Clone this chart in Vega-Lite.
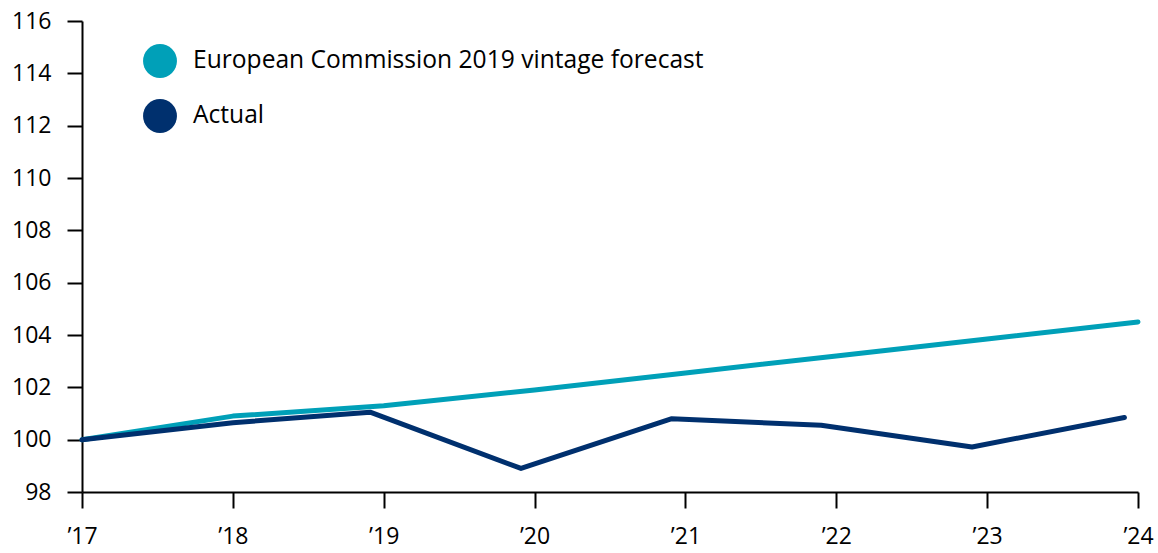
{
  "$schema": "https://vega.github.io/schema/vega-lite/v6.json",
  "width": 1056,
  "height": 471,
  "autosize": "none",
  "padding": {"left": 82, "top": 21, "right": 20, "bottom": 61},
  "background": "white",
  "config": {
    "view": {"stroke": null},
    "font": "Open Sans"
  },
  "data": {
    "values": [
      {"series": "European Commission 2019 vintage forecast", "year": 2017, "value": 100.0},
      {"series": "European Commission 2019 vintage forecast", "year": 2018, "value": 100.9},
      {"series": "European Commission 2019 vintage forecast", "year": 2019, "value": 101.3},
      {"series": "European Commission 2019 vintage forecast", "year": 2020, "value": 101.9},
      {"series": "European Commission 2019 vintage forecast", "year": 2021, "value": 102.55},
      {"series": "European Commission 2019 vintage forecast", "year": 2022, "value": 103.2},
      {"series": "European Commission 2019 vintage forecast", "year": 2023, "value": 103.85},
      {"series": "European Commission 2019 vintage forecast", "year": 2024, "value": 104.5},
      {"series": "Actual", "year": 2017, "value": 100.0},
      {"series": "Actual", "year": 2018.0, "value": 100.65},
      {"series": "Actual", "year": 2018.91, "value": 101.05},
      {"series": "Actual", "year": 2019.91, "value": 98.9},
      {"series": "Actual", "year": 2020.91, "value": 100.8},
      {"series": "Actual", "year": 2021.9, "value": 100.55},
      {"series": "Actual", "year": 2022.9, "value": 99.72},
      {"series": "Actual", "year": 2023.91, "value": 100.85}
    ]
  },
  "mark": {"type": "line", "strokeWidth": 5, "strokeCap": "round", "strokeJoin": "round"},
  "encoding": {
    "x": {
      "field": "year",
      "type": "quantitative",
      "scale": {"domain": [2017, 2024], "nice": false, "zero": false},
      "axis": {
        "title": null,
        "values": [2017, 2018, 2019, 2020, 2021, 2022, 2023, 2024],
        "labelExpr": "'’' + substring(format(datum.value, 'd'), 2)",
        "grid": false,
        "domainColor": "black",
        "domainWidth": 2,
        "tickColor": "black",
        "tickWidth": 2,
        "tickSize": 16,
        "labelFontSize": 23,
        "labelColor": "black",
        "labelPadding": 17,
        "labelFlush": false
      }
    },
    "y": {
      "field": "value",
      "type": "quantitative",
      "scale": {"domain": [98, 116], "nice": false, "zero": false},
      "axis": {
        "title": null,
        "values": [98, 100, 102, 104, 106, 108, 110, 112, 114, 116],
        "grid": false,
        "domainColor": "black",
        "domainWidth": 2,
        "tickColor": "black",
        "tickWidth": 2,
        "tickSize": 15,
        "labelFontSize": 23,
        "labelColor": "black",
        "labelPadding": 16
      }
    },
    "color": {
      "field": "series",
      "type": "nominal",
      "sort": ["European Commission 2019 vintage forecast", "Actual"],
      "scale": {
        "domain": ["European Commission 2019 vintage forecast", "Actual"],
        "range": ["#00A0B8", "#00306E"]
      },
      "legend": {
        "title": null,
        "orient": "none",
        "legendX": 61,
        "legendY": 23,
        "symbolType": "circle",
        "symbolSize": 1150,
        "symbolStrokeWidth": 0,
        "symbolOpacity": 1,
        "labelFontSize": 24.6,
        "labelColor": "black",
        "labelOffset": 16,
        "rowPadding": 21,
        "labelLimit": 700,
        "encode": {
          "symbols": {
            "update": {
              "fill": {"scale": "color", "field": "value"},
              "fillOpacity": {"value": 1},
              "strokeWidth": {"value": 0}
            }
          }
        }
      }
    }
  }
}
